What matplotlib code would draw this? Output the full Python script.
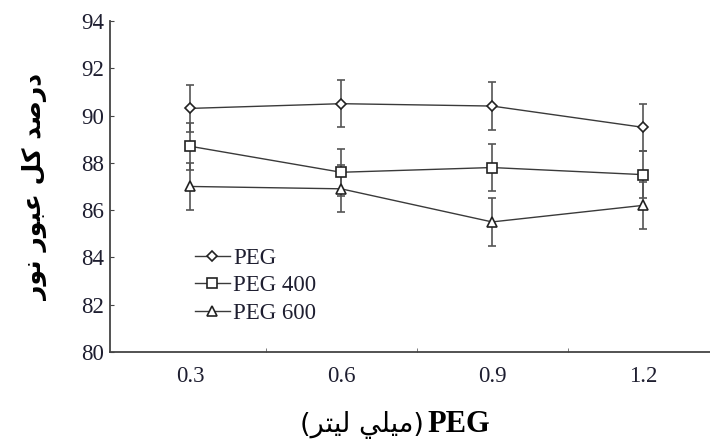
import numpy as np
import matplotlib.pyplot as plt

# PEG dose (ml) vs total light transmission (%)
doses = [0.3, 0.6, 0.9, 1.2]
peg = [90.3, 90.5, 90.4, 89.5]
peg400 = [88.7, 87.6, 87.8, 87.5]
peg600 = [87.0, 86.9, 85.5, 86.2]
err = [1.0, 1.0, 1.0, 1.0]
series_names = ['PEG', 'PEG 400', 'PEG 600']

# Persian labels, written in visual order with Arabic presentation forms
# (matplotlib does no bidi / shaping on its own)
ylab = '\uFEAD\uFEEE\uFEE7 \uFEAD\uFEEE\uFE92\uFECB \uFEDE\uFB90 \uFEAA\uFEBB\uFEAD\uFEA9'  # درصد کل عبور نور
xlab_fa = '(\uFEAE\uFE98\uFEF4\uFEDF \uFEF2\uFEE0\uFEF4\uFEE3)'  # (میلی لیتر)

plt.rcParams['font.family'] = ['Liberation Serif', 'DejaVu Sans']

fig = plt.figure(figsize=(7.1, 4.45), dpi=100)
ax = fig.add_axes([0.155, 0.209, 0.845, 0.744])

markers = ['D', 's', '^']
sizes = [5, 6.5, 7]
for vals, m, ms, name in zip([peg, peg400, peg600], markers, sizes, series_names):
    ax.errorbar(doses, vals, yerr=err, fmt='none', ecolor='#555555',
                elinewidth=1.2, capsize=3, capthick=1.2, zorder=2)
    ax.plot(doses, vals, color='#3a3a3a', lw=1, marker=m, ms=ms,
            mfc='white', mec='#222222', mew=1.2, label=name, zorder=3)

ax.set_xlim(0.141, 1.333)
ax.set_ylim(80, 94)
ax.set_yticks(np.arange(80, 95, 2))
ax.set_xticks(doses)
ax.set_xticklabels(['0.3', '0.6', '0.9', '1.2'])
ax.set_xticks([0.45, 0.75, 1.05], minor=True)

for s in ['top', 'right']:
    ax.spines[s].set_visible(False)
for s in ['left', 'bottom']:
    ax.spines[s].set_color('#444444')
    ax.spines[s].set_linewidth(1.3)

ax.tick_params(axis='y', direction='in', length=3, color='#444444',
               labelsize=16.5, labelcolor='#1e1e30', pad=4)
ax.tick_params(axis='x', which='major', length=0, labelsize=16.5,
               labelcolor='#1e1e30', pad=10)
ax.tick_params(axis='x', which='minor', direction='in', length=3, color='#666666')

ax.set_ylabel(ylab, family='DejaVu Sans', fontsize=18, fontweight='bold',
              labelpad=24)

# x label: Persian part + bold PEG, placed side by side
fig.text(424 / 710, 0.03, xlab_fa, family='DejaVu Sans', fontsize=19.5,
         ha='right', va='baseline')
fig.text(427 / 710, 0.03, 'PEG', fontsize=22, fontweight='bold',
         ha='left', va='baseline')

leg = ax.legend(loc='upper left', bbox_to_anchor=(0.123, 0.35), frameon=False,
                fontsize=16.5, handlelength=1.5, handletextpad=0.15,
                labelspacing=0.28, borderpad=0)
for t in leg.get_texts():
    t.set_color('#1e1e30')

fig.savefig('out.png', dpi=100)
